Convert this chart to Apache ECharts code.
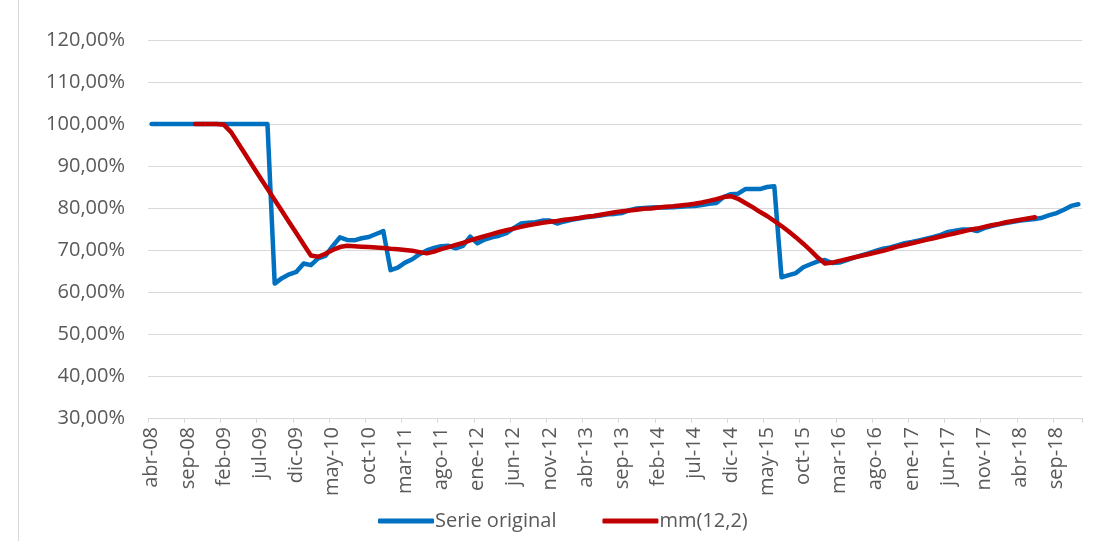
<!DOCTYPE html>
<html>
<head>
<meta charset="utf-8">
<script src="https://cdn.jsdelivr.net/npm/echarts@6/dist/echarts.min.js"></script>
<style>
html,body{margin:0;padding:0;background:#fff;}
#chart{width:1108px;height:541px;}
</style>
</head>
<body>
<div id="chart"></div>
<script>
// Month abbreviations (Spanish) used to build category labels abr-08 .. dic-18
const monthNames = ['ene','feb','mar','abr','may','jun','jul','ago','sep','oct','nov','dic'];
const startYear = 2008, startMonth = 3, monthCount = 129;
const categories = [];
for (let k = 0; k < monthCount; k++) {
  const m = (startMonth + k) % 12;
  const y = startYear + Math.floor((startMonth + k) / 12);
  categories.push(monthNames[m] + '-' + String(y % 100).padStart(2, '0'));
}

// Serie original (%)
const serieOriginal = [
  100,100,100,100,100,100,100,100,100,100,100,100,100,100,100,100,100,
  62.0,63.3,64.2,64.8,66.8,66.4,68.0,68.6,70.9,73.0,72.4,72.3,72.8,73.1,73.8,74.5,
  65.2,65.8,67.0,67.8,69.0,69.9,70.5,70.9,71.0,70.4,71.0,73.2,71.6,72.5,73.0,73.4,
  74.0,75.2,76.3,76.5,76.6,77.0,77.0,76.3,76.8,77.2,77.5,77.8,78.0,78.2,78.5,78.6,
  78.8,79.5,79.9,80.0,80.1,80.2,80.1,80.2,80.3,80.4,80.5,80.7,81.0,81.2,82.6,83.3,
  83.4,84.5,84.5,84.5,85.0,85.2,
  63.5,64.0,64.5,65.9,66.6,67.3,67.6,66.9,67.0,67.6,68.2,68.7,69.2,69.8,70.3,70.6,
  71.1,71.6,71.9,72.3,72.7,73.1,73.6,74.3,74.6,74.9,74.9,74.5,75.2,75.7,76.1,76.4,
  76.7,77.0,77.2,77.4,77.7,78.3,78.8,79.6,80.5,80.9
];

// mm(12,2) (%), centred moving average: no values for first and last 6 months
const mm12x2 = [
  null,null,null,null,null,null,
  100,100,100,100,99.8,98.0,95.3,92.6,89.9,87.2,84.6,81.9,79.3,76.6,74.0,71.3,68.7,
  68.4,69.1,70.0,70.7,71.0,70.9,70.8,70.7,70.6,70.5,70.3,70.2,70.0,69.8,69.5,69.2,
  69.6,70.2,70.7,71.2,71.7,72.3,72.8,73.3,73.8,74.3,74.7,75.1,75.5,75.9,76.2,76.5,
  76.7,76.9,77.2,77.4,77.6,77.9,78.1,78.4,78.7,79.0,79.2,79.4,79.6,79.8,79.9,80.1,
  80.3,80.4,80.6,80.8,81.0,81.3,81.7,82.1,82.6,82.8,82.2,81.2,80.2,79.1,78.1,76.9,
  75.7,74.4,73.0,71.5,69.9,68.2,66.8,67.0,67.4,67.8,68.2,68.6,69.0,69.4,69.8,70.3,
  70.8,71.2,71.6,72.0,72.4,72.8,73.2,73.6,74.0,74.4,74.8,75.1,75.5,75.9,76.2,76.6,
  76.9,77.2,77.5,77.8,
  null,null,null,null,null,null
];

const yMin = 30, yMax = 120, yStep = 10;

const chart = echarts.init(document.getElementById('chart'), null, {renderer: 'canvas'});
const font = '"Open Sans", "Noto Sans", Arial, sans-serif';
chart.setOption({
  backgroundColor: '#ffffff',
  animation: false,
  graphic: [{
    type: 'line',
    shape: {x1: 18.5, y1: 0, x2: 18.5, y2: 541},
    style: {stroke: '#d9d9d9', lineWidth: 1}
  }],
  grid: {left: 148, right: 26, top: 40, bottom: 123, containLabel: false},
  legend: {
    top: 506,
    left: 373,
    itemWidth: 56,
    itemHeight: 5,
    itemGap: 46,
    icon: 'roundRect',
    textStyle: {color: '#595959', fontSize: 20, fontFamily: font, padding: [0, 0, 0, -4]},
    data: ['Serie original', 'mm(12,2)']
  },
  xAxis: {
    type: 'category',
    data: categories,
    boundaryGap: true,
    axisLine: {show: true, lineStyle: {color: '#d9d9d9', width: 1}},
    axisTick: {show: true, interval: 4, length: 5, lineStyle: {color: '#d9d9d9'}},
    axisLabel: {
      interval: 4,
      rotate: 90,
      margin: 9,
      color: '#595959',
      fontSize: 20,
      fontFamily: font
    },
    splitLine: {show: false}
  },
  yAxis: {
    type: 'value',
    min: yMin,
    max: yMax,
    interval: yStep,
    axisLine: {show: false},
    axisTick: {show: false},
    axisLabel: {
      margin: 23,
      color: '#595959',
      fontSize: 20,
      fontFamily: font,
      formatter: v => v.toFixed(2).replace('.', ',') + '%'
    },
    splitLine: {show: true, lineStyle: {color: '#d9d9d9', width: 1}}
  },
  series: [
    {
      name: 'Serie original',
      type: 'line',
      data: serieOriginal,
      symbol: 'none',
      itemStyle: {color: '#0070C0'},
      lineStyle: {color: '#0070C0', width: 4.5, cap: 'round', join: 'round'}
    },
    {
      name: 'mm(12,2)',
      type: 'line',
      data: mm12x2,
      symbol: 'none',
      itemStyle: {color: '#C00000'},
      lineStyle: {color: '#C00000', width: 4.5, cap: 'round', join: 'round'}
    }
  ]
});
</script>
</body>
</html>
